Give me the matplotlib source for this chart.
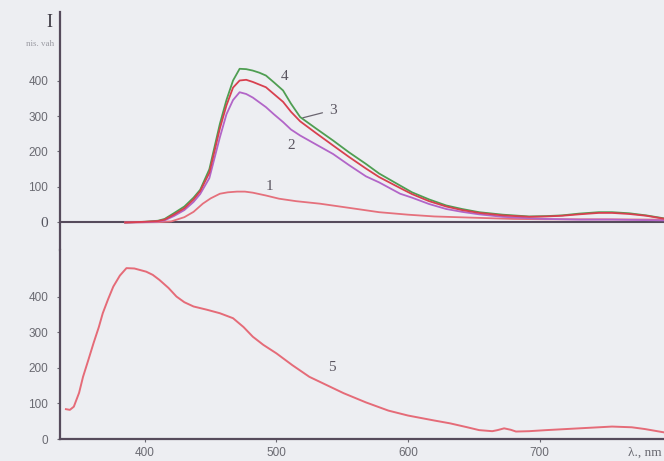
import matplotlib
matplotlib.use("Agg")
import matplotlib.pyplot as plt

# ---------------- data ----------------
wl4 = [385, 400, 410, 415, 422, 430, 437, 442, 449, 457, 462, 467, 472, 477, 482, 487, 492, 498, 505, 511, 518, 530, 543, 555, 568, 578, 594, 603, 616, 629, 641, 654, 672, 692, 705, 717, 730, 745, 755, 768, 781, 794]
I4 = [0, 2, 5, 10, 26, 45, 70, 92, 150, 278, 345, 400, 433, 432, 428, 422, 414, 395, 372, 335, 297, 265, 231, 198, 165, 138, 104, 85, 65, 48, 38, 29, 22, 17, 18, 20, 25, 29, 29, 26, 20, 12]

wl3 = [385, 400, 410, 415, 422, 430, 437, 442, 449, 457, 462, 467, 472, 477, 482, 492, 498, 505, 511, 518, 530, 543, 555, 568, 578, 594, 603, 616, 629, 641, 654, 672, 692, 705, 717, 730, 745, 755, 768, 781, 794]
I3 = [0, 2, 4, 8, 22, 40, 65, 88, 140, 265, 330, 380, 400, 402, 396, 381, 362, 340, 312, 285, 252, 217, 185, 152, 128, 97, 80, 60, 45, 35, 27, 20, 16, 17, 19, 23, 27, 27, 24, 19, 11]

wl2 = [385, 400, 410, 415, 422, 430, 437, 442, 449, 457, 462, 467, 472, 477, 482, 492, 498, 505, 511, 518, 530, 543, 555, 568, 578, 594, 603, 616, 629, 641, 654, 672, 692, 705, 730, 755, 794]
I2 = [0, 1, 3, 6, 18, 35, 58, 80, 125, 240, 305, 345, 367, 362, 352, 325, 305, 283, 262, 245, 220, 193, 162, 130, 113, 81, 70, 52, 38, 30, 23, 16, 12, 10, 8, 8, 6]

wl1 = [385, 410, 420, 430, 437, 444, 450, 457, 463, 470, 476, 482, 492, 502, 515, 533, 550, 565, 578, 600, 620, 654, 680, 705, 750, 794]
I1 = [0, 1, 3, 15, 30, 53, 68, 81, 85, 87, 87, 84, 76, 67, 60, 53, 44, 36, 29, 22, 17, 13, 10, 9, 9, 8]

wl5 = [340, 343, 346, 350, 353, 357, 361, 365, 368, 372, 376, 381, 386, 392, 401, 406, 411, 418, 424, 430, 437, 447, 457, 467, 475, 482, 490, 500, 512, 525, 538, 551, 568, 585, 600, 620, 632, 645, 654, 664, 668, 673, 678, 682, 692, 705, 730, 755, 770, 780, 794]
I5 = [84, 82, 91, 130, 175, 222, 270, 315, 354, 393, 429, 460, 481, 480, 471, 462, 448, 425, 401, 385, 373, 364, 354, 340, 315, 288, 265, 241, 208, 175, 152, 129, 103, 80, 66, 52, 44, 33, 25, 22, 25, 30, 26, 21, 22, 25, 30, 35, 33, 28, 19]

y_ticks = [0, 100, 200, 300, 400]
x_ticks = [400, 500, 600, 700]

# ---------------- style ----------------
bg = "#edeef2"
axc = "#564b5c"
tickc = "#6a6a72"
c1 = "#e5707c"
c2 = "#b265c8"
c3 = "#d8404f"
c4 = "#4f9e52"
c5 = "#e56b78"

W, H = 664, 461
fig = plt.figure(figsize=(W / 100, H / 100), dpi=100, facecolor=bg)

def fx(px):
    return px / W

def fy(py):
    return 1 - py / H

xmin, xmax = 335.5, 794.5

axT = fig.add_axes([fx(60), fy(250), 1 - fx(60), fy(12) - fy(250)])
axB = fig.add_axes([fx(60), fy(439), 1 - fx(60), fy(250) - fy(439)])

for ax in (axT, axB):
    ax.set_facecolor(bg)
    ax.set_xlim(xmin, xmax)
    for s in ("top", "right"):
        ax.spines[s].set_visible(False)
    ax.spines["left"].set_color(axc)
    ax.spines["left"].set_linewidth(1.6)
    ax.tick_params(axis="y", colors=tickc, labelcolor=tickc, length=2.5, width=0.8,
                   labelsize=8.5, pad=6)

# ---- top panel ----
axT.set_ylim(-77.5, 593)
axT.spines["bottom"].set_visible(False)
axT.set_xticks([])
axT.axhline(0, color=axc, lw=1.5, zorder=1)
axT.plot(wl1, I1, color=c1, lw=1.3, zorder=3)
axT.plot(wl2, I2, color=c2, lw=1.3, zorder=3)
axT.plot(wl3, I3, color=c3, lw=1.3, zorder=4)
axT.plot(wl4, I4, color=c4, lw=1.3, zorder=2)
axT.set_yticks(y_ticks)
axT.set_yticklabels([str(v) for v in y_ticks], family="Liberation Sans")
tl = axT.get_yticklabels()
tl[0].set_fontsize(11)
tl[0].set_family("Liberation Serif")
tl[0].set_color("#555560")

serif = "Liberation Serif"
axT.text(-0.012, 0.955, "I", transform=axT.transAxes, ha="right", va="center",
         fontsize=13, family=serif, color="#3e3a44")
axT.text(-0.01, 0.865, "nis. vah", transform=axT.transAxes, ha="right", va="center",
         fontsize=6.5, family=serif, color="#9a9aa2")

axT.text(506, 410, "4", fontsize=11, family=serif, color="#5a5560", ha="center", va="center")
axT.text(543, 315, "3", fontsize=11, family=serif, color="#5a5560", ha="center", va="center")
axT.annotate("", xy=(518, 293), xytext=(537, 311),
             arrowprops=dict(arrowstyle="-", color="#6a6570", lw=0.9))
axT.text(511, 218, "2", fontsize=11, family=serif, color="#5a5560", ha="center", va="center")
axT.text(495, 100, "1", fontsize=11, family=serif, color="#5a5560", ha="center", va="center")

# ---- bottom panel ----
axB.set_ylim(0, 532)
axB.spines["bottom"].set_color(axc)
axB.spines["bottom"].set_linewidth(1.6)
axB.plot(wl5, I5, color=c5, lw=1.4)
axB.set_yticks(y_ticks)
axB.set_yticklabels([str(v) for v in y_ticks], family="Liberation Sans")
axB.set_xticks(x_ticks)
axB.set_xticklabels([str(v) for v in x_ticks], family="Liberation Sans")
axB.tick_params(axis="x", colors=tickc, labelcolor=tickc, length=2.5, width=0.8,
                labelsize=8.5, pad=3)
axB.text(542, 200, "5", fontsize=11, family=serif, color="#5a5560", ha="center", va="center")
axB.text(780, -38, "λ., nm", fontsize=9.5, family=serif, color="#6a6a72",
         ha="center", va="center", clip_on=False)

fig.savefig("out.png", dpi=100, facecolor=bg)
